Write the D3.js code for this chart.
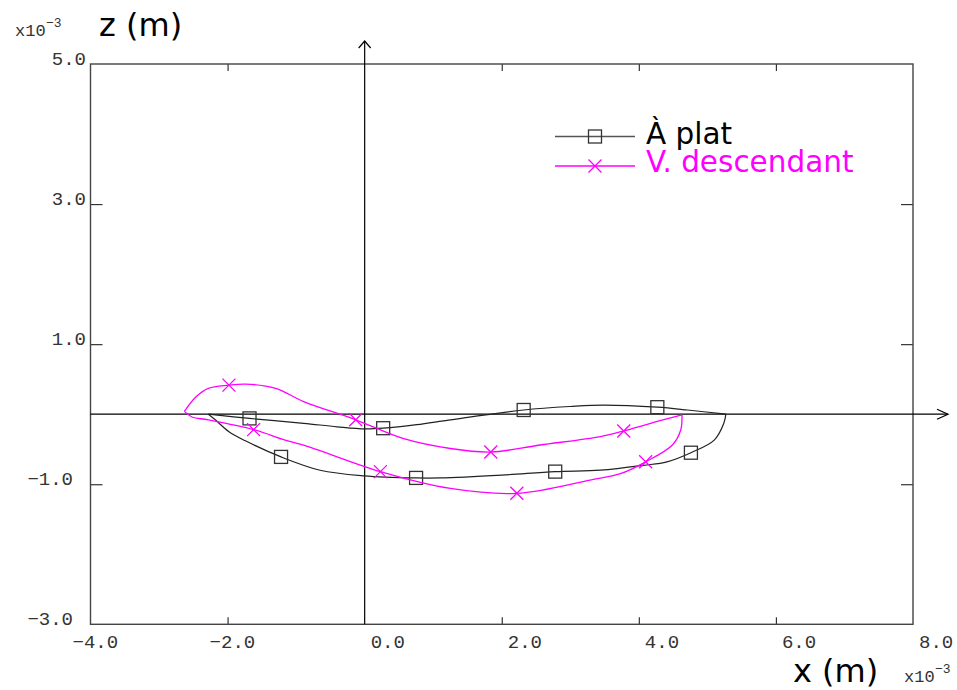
<!DOCTYPE html>
<html><head><meta charset="utf-8">
<script src="https://cdn.jsdelivr.net/npm/d3@7/dist/d3.min.js"></script>
<style>body{margin:0;background:#fff}svg{display:block}</style>
</head><body>
<svg id="c" width="957" height="690"></svg>
<script>
// ---- data (units: x10^-3 m) ----
const xTicks = [-4, -2, 0, 2, 4, 6, 8];
const yTicks = [-3, -1, 1, 3, 5];
const seriesNames = ["À plat", "V. descendant"];

// "À plat" loop: upper branch (left tip -> right tip), lower branch (right tip -> left tip)
const platUpperX = [-2.28, -1.68, -0.89, -0.40, 0.00, 0.27, 0.76, 1.25, 2.32, 3.00, 3.49, 4.27, 4.71, 5.27];
const platUpperZ = [0.00, -0.06, -0.13, -0.18, -0.21, -0.20, -0.15, -0.08, 0.06, 0.11, 0.13, 0.10, 0.06, 0.00];
const platLowerX = [5.27, 5.24, 5.10, 4.76, 4.41, 4.07, 3.44, 2.78, 2.00, 1.10, 0.75, -0.01, -0.65, -1.22, -1.74, -1.98, -2.18, -2.28];
const platLowerZ = [0.00, -0.13, -0.37, -0.55, -0.68, -0.73, -0.80, -0.82, -0.87, -0.91, -0.91, -0.88, -0.80, -0.61, -0.38, -0.25, -0.08, 0.00];
const platMarkX = [-1.68, 0.27, 2.32, 4.27, -1.22, 0.75, 2.78, 4.76];
const platMarkZ = [-0.06, -0.20, 0.06, 0.10, -0.61, -0.91, -0.82, -0.55];

// "V. descendant" loop
const descUpperX = [-2.63, -2.46, -2.28, -1.98, -1.74, -1.30, -0.89, -0.13, 0.57, 1.25, 1.84, 2.56, 3.44, 3.78, 4.17, 4.63];
const descUpperZ = [0.04, 0.25, 0.37, 0.415, 0.43, 0.37, 0.18, -0.08, -0.35, -0.49, -0.54, -0.44, -0.32, -0.24, -0.13, -0.01];
const descLowerX = [4.63, 4.61, 4.49, 4.10, 3.73, 3.29, 2.22, 1.25, 0.23, -0.89, -1.16, -1.62, -2.28, -2.52, -2.63];
const descLowerZ = [-0.01, -0.23, -0.44, -0.68, -0.85, -0.94, -1.13, -1.06, -0.82, -0.44, -0.37, -0.22, -0.08, -0.04, 0.04];
const descMarkX = [-1.98, -0.13, 1.84, 3.78, -1.62, 0.23, 2.22, 4.10];
const descMarkZ = [0.415, -0.08, -0.54, -0.24, -0.22, -0.82, -1.13, -0.68];

// ---- drawing ----
const svg = d3.select("#c");
const L = 90.5, R = 913, T = 64, B = 624.3;
const x = d3.scaleLinear().domain([-4, 8]).range([L, R]);
const y = d3.scaleLinear().domain([-3, 5]).range([B, T]);
const MONO = "'Liberation Mono', 'DejaVu Sans Mono', monospace";
const SANS = "'DejaVu Sans', sans-serif";
const fmt = d3.format(".1f");

// inner ticks via axes (no labels)
const inner = svg.append("g").attr("stroke", "#333");
const axB = d3.axisBottom(x).tickValues(xTicks.filter(d => d !== -4 && d !== 8 && d !== 0)).tickSize(-7).tickFormat("");
const axT = d3.axisTop(x).tickValues(xTicks.filter(d => d !== -4 && d !== 8 && d !== 0)).tickSize(-7).tickFormat("");
const axL = d3.axisLeft(y).tickValues(yTicks.filter(d => d !== -3 && d !== 5)).tickSize(-12).tickFormat("");
const axR = d3.axisRight(y).tickValues(yTicks.filter(d => d !== -3 && d !== 5)).tickSize(-12).tickFormat("");
[[axB, `translate(0,${B})`], [axT, `translate(0,${T})`], [axL, `translate(${L},0)`], [axR, `translate(${R},0)`]]
  .forEach(([ax, tr]) => {
    const g = inner.append("g").attr("transform", tr).call(ax);
    g.select(".domain").remove();
    g.selectAll("line").attr("stroke", "#333").attr("stroke-width", 1.2);
  });

// frame
svg.append("rect").attr("x", L).attr("y", T).attr("width", R - L).attr("height", B - T)
  .attr("fill", "none").attr("stroke", "#444").attr("stroke-width", 1.4);

// central axes with arrows
const ax0 = svg.append("g").attr("stroke", "#000").attr("stroke-width", 1.2).attr("fill", "none");
ax0.append("line").attr("x1", L).attr("x2", 948).attr("y1", y(0)).attr("y2", y(0));
ax0.append("path").attr("d", `M937,${y(0) - 5}L948,${y(0)}L937,${y(0) + 5}`);
ax0.append("line").attr("x1", x(0)).attr("x2", x(0)).attr("y1", B).attr("y2", 41);
ax0.append("path").attr("d", `M${x(0) - 6},48L${x(0)},41L${x(0) + 6},48`);

// tick labels
const tl = svg.append("g").attr("font-family", MONO).attr("font-size", 19).attr("fill", "#333");
tl.selectAll("text.xl").data(xTicks).join("text")
  .attr("x", d => x(d) + (d < 0 ? -18 : 6)).attr("y", 648)
  .attr("text-anchor", "start").text(d => fmt(d));
tl.selectAll("text.yl").data(yTicks).join("text")
  .attr("x", d => d < 0 ? 73 : 86).attr("y", d => y(d) + 1)
  .attr("text-anchor", "end").text(d => fmt(d));

// exponent labels
function expo(xp, yb) {
  const g = svg.append("g").attr("font-family", MONO).attr("fill", "#333");
  g.append("text").attr("x", xp).attr("y", yb).attr("font-size", 17).text("x10");
  g.append("text").attr("x", xp + 31).attr("y", yb - 9).attr("font-size", 13).text("−3");
}
expo(15, 36);
expo(904, 682);

// axis titles
svg.append("text").attr("x", 99).attr("y", 36).attr("font-family", SANS).attr("font-size", 32).attr("fill", "#000").text("z (m)");
svg.append("text").attr("x", 793).attr("y", 682).attr("font-family", SANS).attr("font-size", 32).attr("fill", "#000").text("x (m)");

// curves
const line = d3.line().x(d => x(d[0])).y(d => y(d[1])).curve(d3.curveCatmullRom.alpha(0.5));
const zip = (a, b) => a.map((v, i) => [v, b[i]]);
const series = [
  {color: "#222", w: 1.2, branches: [zip(platUpperX, platUpperZ), zip(platLowerX, platLowerZ)], marks: zip(platMarkX, platMarkZ), type: "square"},
  {color: "#ff00ff", w: 1.3, branches: [zip(descUpperX, descUpperZ), zip(descLowerX, descLowerZ)], marks: zip(descMarkX, descMarkZ), type: "cross"}
];
function marker(g, cx, cy, type, color) {
  if (type === "square") {
    g.append("rect").attr("x", cx - 6.5).attr("y", cy - 6.5).attr("width", 13).attr("height", 13)
      .attr("fill", "none").attr("stroke", "#333").attr("stroke-width", 1.3);
  } else {
    const s = 6.5;
    g.append("path").attr("d", `M${cx - s},${cy - s}L${cx + s},${cy + s}M${cx - s},${cy + s}L${cx + s},${cy - s}`)
      .attr("fill", "none").attr("stroke", color).attr("stroke-width", 1.3);
  }
}
series.forEach(s => {
  const g = svg.append("g");
  s.branches.forEach(b => g.append("path").attr("d", line(b)).attr("fill", "none").attr("stroke", s.color).attr("stroke-width", s.w));
  s.marks.forEach(m => marker(g, x(m[0]), y(m[1]), s.type, s.color));
});

// legend
const leg = svg.append("g");
const legY = [136.5, 166];
const legBase = [143.5, 172];
series.forEach((s, i) => {
  leg.append("line").attr("x1", 555).attr("x2", 635).attr("y1", legY[i]).attr("y2", legY[i])
    .attr("stroke", i === 0 ? "#555" : s.color).attr("stroke-width", 1.3);
  marker(leg, 595, legY[i], s.type, s.color);
  leg.append("text").attr("x", 646).attr("y", legBase[i])
    .attr("font-family", SANS).attr("font-size", 29.5)
    .attr("fill", i === 0 ? "#000" : "#ff00ff").text(seriesNames[i]);
});
</script>
</body></html>
